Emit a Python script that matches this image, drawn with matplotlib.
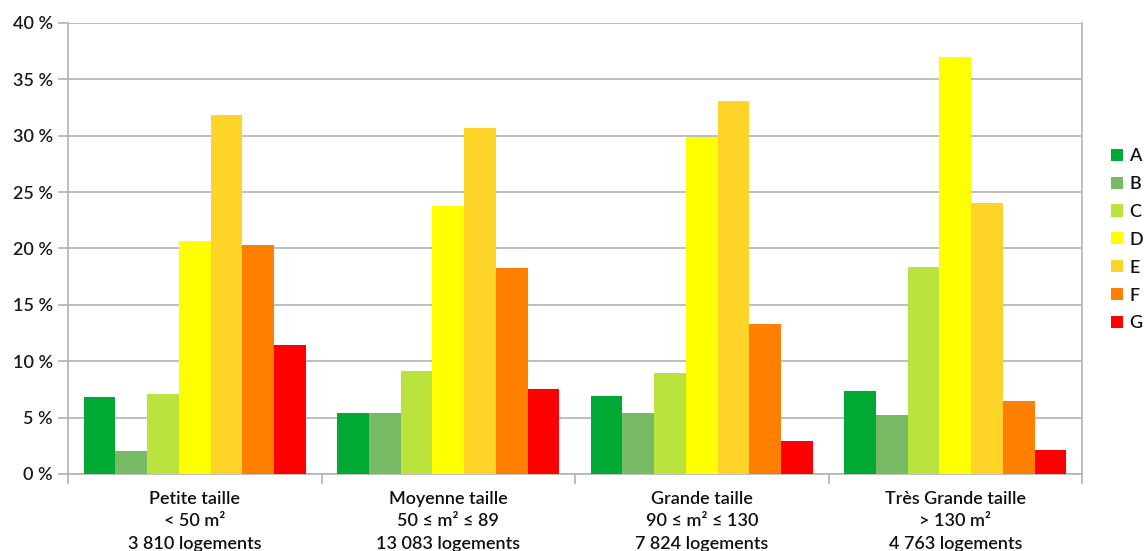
import matplotlib
matplotlib.use("Agg")
import matplotlib.pyplot as plt
import numpy as np

plt.rcParams['font.family'] = ['Lato', 'DejaVu Sans']

categories = [
    "Petite taille\n< 50 m²\n3 810 logements",
    "Moyenne taille\n50 ≤ m² ≤ 89\n13 083 logements",
    "Grande taille\n90 ≤ m² ≤ 130\n7 824 logements",
    "Très Grande taille\n> 130 m²\n4 763 logements",
]
classes = ["A", "B", "C", "D", "E", "F", "G"]
values = {
    "A": [6.8, 5.4, 6.9, 7.4],
    "B": [2.0, 5.4, 5.4, 5.2],
    "C": [7.1, 9.1, 9.0, 18.4],
    "D": [20.7, 23.8, 29.9, 37.0],
    "E": [31.8, 30.7, 33.1, 24.0],
    "F": [20.3, 18.3, 13.3, 6.5],
    "G": [11.4, 7.5, 2.9, 2.1],
}
colors = ["#00a933", "#77bc65", "#bbe33d", "#ffff00", "#ffd428", "#ff8000", "#ff0000"]
yticks = [0, 5, 10, 15, 20, 25, 30, 35, 40]

FS = 13
WEIGHT = 'semibold'

fig = plt.figure(figsize=(11.44, 5.51), dpi=100)
ax = fig.add_axes([68 / 1144, 77 / 551, (1082 - 68) / 1144, (474 - 23) / 551])

n = len(classes)
group_w = 0.876
bw = group_w / n
x = np.arange(len(categories))
for i, (cls, col) in enumerate(zip(classes, colors)):
    offs = -group_w / 2 + bw * (i + 0.5)
    ax.bar(x + offs, values[cls], width=bw, color=col, label=cls,
           edgecolor='none', zorder=3)

ax.set_xlim(-0.5, len(categories) - 0.5)
ax.set_ylim(0, 40)
ax.set_yticks(yticks)
ax.set_yticklabels([f"{v} %" for v in yticks], fontsize=FS, color='#1a1a1a',
                   fontweight=WEIGHT)
ax.yaxis.grid(True, color='#b3b3b3', linewidth=1.2, zorder=0)
ax.set_axisbelow(True)

ax.set_xticks(x)
ax.set_xticklabels(categories, fontsize=FS, color='#111111', linespacing=1.5,
                   fontweight=WEIGHT)
ax.set_xticks(np.arange(len(categories) + 1) - 0.5, minor=True)
ax.tick_params(axis='x', which='major', length=0, pad=12)
ax.tick_params(axis='x', which='minor', length=7, color='#b3b3b3', width=1.2)
ax.tick_params(axis='y', length=7, color='#b3b3b3', width=1.2, pad=4)

for side in ['left', 'bottom', 'right', 'top']:
    ax.spines[side].set_color('#b3b3b3')
    ax.spines[side].set_linewidth(1.2)
ax.spines['top'].set_visible(False)

leg = ax.legend(loc='upper left', bbox_to_anchor=(1111 / 1144, (551 - 148) / 551),
                bbox_transform=fig.transFigure, frameon=False,
                prop={'size': FS, 'weight': WEIGHT},
                handlelength=0.65, handleheight=0.65, handletextpad=0.35,
                labelspacing=0.66, borderaxespad=0, borderpad=0)
for t in leg.get_texts():
    t.set_color('#111111')

fig.savefig("out.png", dpi=100)
